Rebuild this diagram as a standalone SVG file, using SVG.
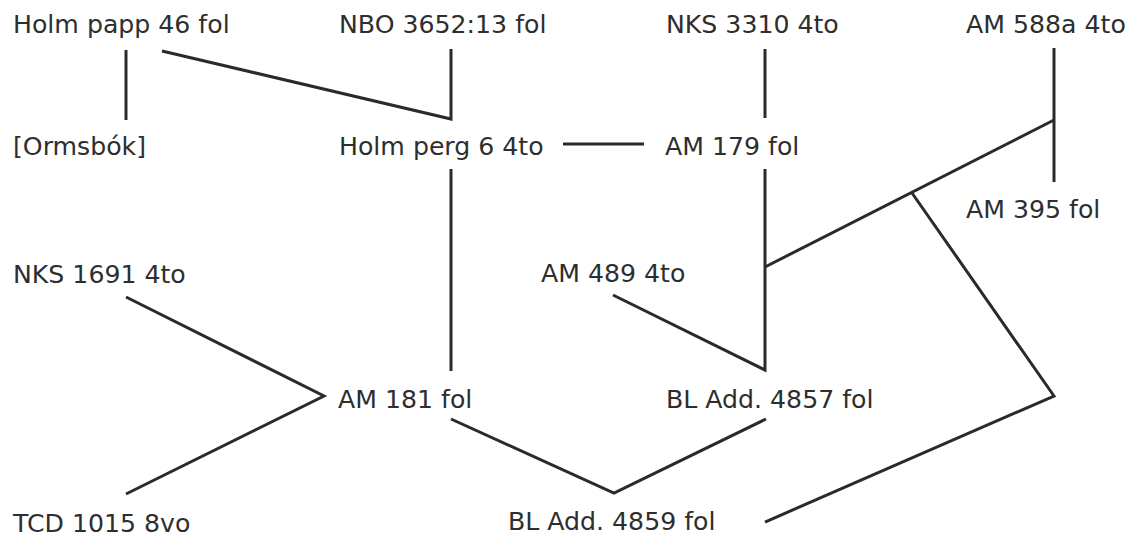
<svg xmlns="http://www.w3.org/2000/svg" width="1131" height="536" viewBox="0 0 1131 536">
<style>
text{font-family:"DejaVu Sans","Verdana",sans-serif;font-size:25.2px;fill:#2e2e2e}
.c{fill:none;stroke:#2a2a2a;stroke-width:3;stroke-linejoin:miter;stroke-linecap:butt}
</style>
<rect width="1131" height="536" fill="#ffffff"/>
<g id="connectors">
<line class="c" x1="126" y1="50" x2="126" y2="120"/>
<polyline class="c" points="162,51 451,119 451,49"/>
<line class="c" x1="765" y1="49" x2="765" y2="118"/>
<line class="c" x1="1054" y1="48" x2="1054" y2="182"/>
<line class="c" x1="563" y1="144" x2="644" y2="144"/>
<line class="c" x1="451" y1="169" x2="451" y2="371"/>
<polyline class="c" points="613,295 765,370 765,169"/>
<line class="c" x1="765" y1="267" x2="1054" y2="120"/>
<polyline class="c" points="912,193 1054,396 765,522"/>
<polyline class="c" points="126,297 324,396 126,494"/>
<polyline class="c" points="451,419 614,493 766,419"/>
</g>
<g id="n-holm-papp"><text x="13" y="33">Holm papp 46 fol</text></g>
<g id="n-nbo"><text x="339" y="33">NBO 3652:13 fol</text></g>
<g id="n-nks3310"><text x="666" y="33">NKS 3310 4to</text></g>
<g id="n-am588a"><text x="966" y="33">AM 588a 4to</text></g>
<g id="n-ormsbok"><text x="13" y="155">[Ormsbók]</text></g>
<g id="n-holm-perg"><text x="339" y="155">Holm perg 6 4to</text></g>
<g id="n-am179"><text x="665" y="155">AM 179 fol</text></g>
<g id="n-am395"><text x="966" y="218">AM 395 fol</text></g>
<g id="n-nks1691"><text x="13" y="283">NKS 1691 4to</text></g>
<g id="n-am489"><text x="541" y="282">AM 489 4to</text></g>
<g id="n-am181"><text x="338" y="408">AM 181 fol</text></g>
<g id="n-bl4857"><text x="666" y="408">BL Add. 4857 fol</text></g>
<g id="n-tcd1015"><text x="13" y="532">TCD 1015 8vo</text></g>
<g id="n-bl4859"><text x="508" y="530">BL Add. 4859 fol</text></g>
</svg>
